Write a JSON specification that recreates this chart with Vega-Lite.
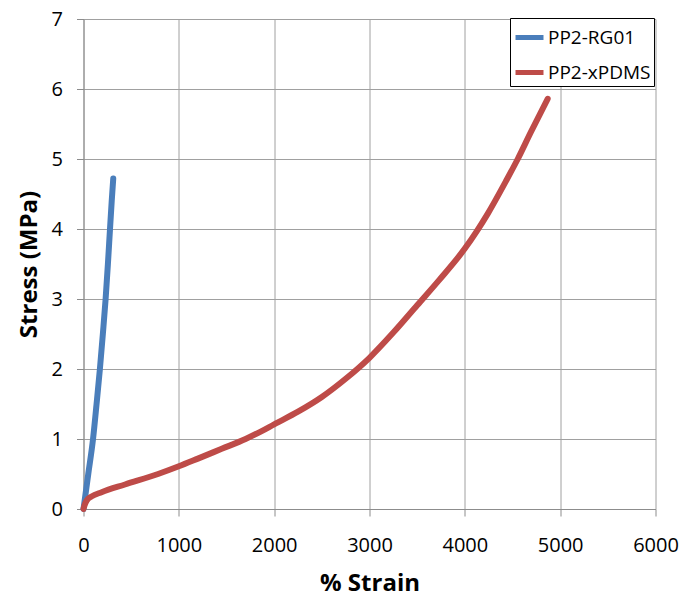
{
  "$schema": "https://vega.github.io/schema/vega-lite/v6.json",
  "width": 572,
  "height": 490,
  "autosize": {"type": "none"},
  "padding": {"left": 83.5, "top": 19, "right": 25.5, "bottom": 87},
  "background": "white",
  "config": {
    "view": {"stroke": null},
    "font": "Open Sans"
  },
  "data": {
    "values": [
      {"series": "PP2-RG01", "strain": 0, "stress": 0},
      {"series": "PP2-RG01", "strain": 20, "stress": 0.2},
      {"series": "PP2-RG01", "strain": 50, "stress": 0.5},
      {"series": "PP2-RG01", "strain": 100, "stress": 1.0},
      {"series": "PP2-RG01", "strain": 137, "stress": 1.5},
      {"series": "PP2-RG01", "strain": 172, "stress": 2.0},
      {"series": "PP2-RG01", "strain": 203, "stress": 2.5},
      {"series": "PP2-RG01", "strain": 232, "stress": 3.0},
      {"series": "PP2-RG01", "strain": 256, "stress": 3.5},
      {"series": "PP2-RG01", "strain": 278, "stress": 4.0},
      {"series": "PP2-RG01", "strain": 296, "stress": 4.4},
      {"series": "PP2-RG01", "strain": 312, "stress": 4.72},
      {"series": "PP2-xPDMS", "strain": 0, "stress": 0},
      {"series": "PP2-xPDMS", "strain": 10, "stress": 0.05},
      {"series": "PP2-xPDMS", "strain": 33, "stress": 0.12},
      {"series": "PP2-xPDMS", "strain": 86, "stress": 0.18},
      {"series": "PP2-xPDMS", "strain": 190, "stress": 0.24},
      {"series": "PP2-xPDMS", "strain": 435, "stress": 0.35},
      {"series": "PP2-xPDMS", "strain": 782, "stress": 0.5},
      {"series": "PP2-xPDMS", "strain": 1000, "stress": 0.61},
      {"series": "PP2-xPDMS", "strain": 1200, "stress": 0.72},
      {"series": "PP2-xPDMS", "strain": 1450, "stress": 0.86},
      {"series": "PP2-xPDMS", "strain": 1700, "stress": 1.0},
      {"series": "PP2-xPDMS", "strain": 1864, "stress": 1.11},
      {"series": "PP2-xPDMS", "strain": 2000, "stress": 1.21},
      {"series": "PP2-xPDMS", "strain": 2250, "stress": 1.39},
      {"series": "PP2-xPDMS", "strain": 2500, "stress": 1.6},
      {"series": "PP2-xPDMS", "strain": 2750, "stress": 1.86},
      {"series": "PP2-xPDMS", "strain": 3000, "stress": 2.16},
      {"series": "PP2-xPDMS", "strain": 3250, "stress": 2.52},
      {"series": "PP2-xPDMS", "strain": 3500, "stress": 2.91},
      {"series": "PP2-xPDMS", "strain": 3730, "stress": 3.27},
      {"series": "PP2-xPDMS", "strain": 4000, "stress": 3.72},
      {"series": "PP2-xPDMS", "strain": 4126, "stress": 3.97},
      {"series": "PP2-xPDMS", "strain": 4241, "stress": 4.22},
      {"series": "PP2-xPDMS", "strain": 4430, "stress": 4.68},
      {"series": "PP2-xPDMS", "strain": 4555, "stress": 5.0},
      {"series": "PP2-xPDMS", "strain": 4691, "stress": 5.38},
      {"series": "PP2-xPDMS", "strain": 4869, "stress": 5.86}
    ]
  },
  "mark": {"type": "line", "strokeWidth": 6, "strokeCap": "round", "strokeJoin": "round", "interpolate": "monotone"},
  "encoding": {
    "x": {
      "field": "strain",
      "type": "quantitative",
      "scale": {"domain": [0, 6000], "nice": false},
      "axis": {
        "values": [0, 1000, 2000, 3000, 4000, 5000, 6000],
        "format": "d",
        "labelFlush": false,
        "title": "% Strain",
        "titleFontSize": 24,
        "titleFontWeight": "bold",
        "titleColor": "black",
        "titlePadding": 16,
        "labelFontSize": 20,
        "labelColor": "black",
        "labelPadding": 19,
        "tickSize": 7,
        "tickColor": "#8c8c8c",
        "domainColor": "#8c8c8c",
        "gridColor": "#a0a0a0",
        "grid": true
      }
    },
    "y": {
      "field": "stress",
      "type": "quantitative",
      "scale": {"domain": [0, 7], "nice": false},
      "axis": {
        "values": [0, 1, 2, 3, 4, 5, 6, 7],
        "labelFlush": false,
        "title": "Stress (MPa)",
        "titleFontSize": 24,
        "titleFontWeight": "bold",
        "titleColor": "black",
        "titlePadding": 10,
        "labelFontSize": 20,
        "labelColor": "black",
        "labelPadding": 14,
        "tickSize": 7,
        "tickColor": "#8c8c8c",
        "domainColor": "#8c8c8c",
        "gridColor": "#a0a0a0",
        "grid": true
      }
    },
    "color": {
      "field": "series",
      "type": "nominal",
      "scale": {"domain": ["PP2-RG01", "PP2-xPDMS"], "range": ["#4a7ebb", "#be4b48"]},
      "legend": {
        "title": null,
        "orient": "none",
        "legendX": 426.5,
        "legendY": -1,
        "symbolType": "stroke",
        "symbolSize": 784,
        "symbolStrokeWidth": 5,
        "labelFontSize": 19,
        "labelColor": "black",
        "labelOffset": 2,
        "rowPadding": 8,
        "padding": 3,
        "strokeColor": "black",
        "fillColor": "white"
      }
    }
  }
}
